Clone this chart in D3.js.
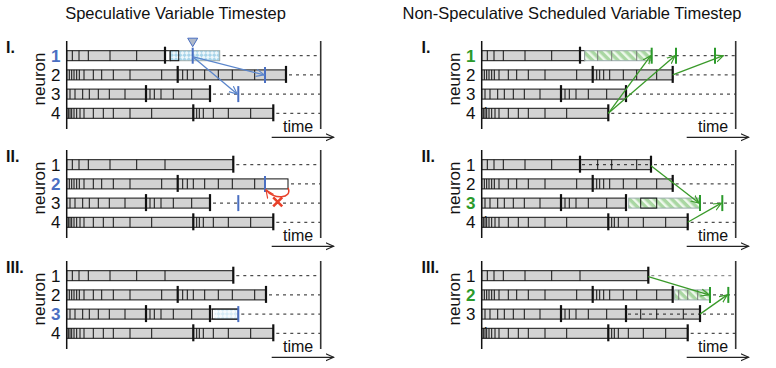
<!DOCTYPE html>
<html>
<head>
<meta charset="utf-8">
<script src="https://cdn.jsdelivr.net/npm/d3@7"></script>
<style>
  body { margin: 0; background: #fff; }
  svg { display: block; font-family: "Liberation Sans", Arial, sans-serif; }
</style>
</head>
<body>
<svg id="chart" width="776" height="368"></svg>
<script>
const titles = ["Speculative Variable Timestep", "Non-Speculative Scheduled Variable Timestep"];
const panelNames = ["I.", "II.", "III."];
const neurons = [1, 2, 3, 4];

// step boundaries (time units) of each neuron
const stepsN1 = [5.6, 12.3, 21.6, 43.3, 70, 98.3];
const stepsN1late = [116, 130, 155];
const stepsN2 = [2.6, 5, 7.3, 10, 12.6, 17.3, 26.6, 35, 46.6, 63.3, 95, 111, 116, 120.6, 126.6, 138, 151.6, 165.6, 188];
const stepsN2R = [2.6, 5, 7.3, 10, 12.6, 17.3, 26.6, 35, 46.6, 63.3, 95, 111, 115, 118, 122, 128, 141.6, 155, 175];
const stepsN3 = [3.3, 8.3, 16, 22.6, 31.6, 42.6, 58.3, 79.3, 83.3, 87.6, 94.3, 106.6, 125];
const stepsN3late = [159, 175, 201.6];
const stepsN4 = [1.6, 3.3, 5, 7.3, 10, 13.3, 17.3, 26.6, 36.6, 46.6, 63.3, 85, 126.6, 130, 132.6, 136.6, 146.6, 161.6, 184];
const specTicksN2 = [197, 206, 216];

// side 0 = speculative, side 1 = scheduled; level 0..2 = I..III
const panels = [
  { side: 0, level: 0, focus: 1,
    rows: [
      { n: 1, end: 98.3, ticks: stepsN1, thick: [98.3], white: [98.3, 103.5], spec: [103.5, 153], box: [103.5, 112], markers: [126], trigger: 126, dashFrom: 153 },
      { n: 2, end: 219.3, ticks: stepsN2, thick: [111, 219.3], markers: [198.3], dashFrom: 219.3 },
      { n: 3, end: 143.3, ticks: stepsN3, thick: [79.3, 143.3], markers: [171.6], dashFrom: 143.3 },
      { n: 4, end: 206.6, ticks: stepsN4, thick: [126.6, 206.6], dashFrom: 206.6 }
    ],
    arrows: [[126, 1, 197.5, 2], [126, 1, 170.5, 3]] },
  { side: 0, level: 1, focus: 2,
    rows: [
      { n: 1, end: 166.6, ticks: stepsN1, thick: [166.6], dashFrom: 166.6 },
      { n: 2, end: 198.3, ticks: stepsN2, thick: [111], white: [198.3, 221.3], markers: [198.3], dashFrom: 221.3 },
      { n: 3, end: 143.3, ticks: stepsN3, thick: [79.3, 143.3], markers: [171.6], dashFrom: 143.3 },
      { n: 4, end: 206.6, ticks: stepsN4, thick: [126.6, 206.6], dashFrom: 206.6 }
    ],
    arrows: [], rollback: [221.3, 198.3, 2, 211] },
  { side: 0, level: 2, focus: 3,
    rows: [
      { n: 1, end: 166.6, ticks: stepsN1, thick: [166.6], dashFrom: 166.6 },
      { n: 2, end: 199.3, ticks: stepsN2, thick: [111, 199.3], dashFrom: 199.3 },
      { n: 3, end: 143.3, ticks: stepsN3, thick: [79.3, 143.3], white: [143.3, 171.6], spec: [148, 171.6], faint: true, box: [145.6, 171.6], markers: [171.6], dashFrom: 171.6 },
      { n: 4, end: 206.6, ticks: stepsN4, thick: [126.6, 206.6], dashFrom: 206.6 }
    ],
    arrows: [] },
  { side: 1, level: 0, focus: 1,
    rows: [
      { n: 1, end: 98.3, ticks: stepsN1, thick: [98.3], white: [98.3, 103], spec: [103, 170], specTicks: stepsN1late, markers: [170, 194.3, 233.3], dashFrom: 170 },
      { n: 2, end: 191, ticks: stepsN2R, thick: [111, 191], dashFrom: 191 },
      { n: 3, end: 144.3, ticks: stepsN3, thick: [79.3, 144.3], dashFrom: 144.3 },
      { n: 4, end: 126.6, ticks: stepsN4, thick: [126.6], dashFrom: 126.6 }
    ],
    arrows: [[126.6, 4, 169, 1], [126.6, 4, 193.3, 1], [191, 2, 241.6, 1]] },
  { side: 1, level: 1, focus: 3,
    rows: [
      { n: 1, end: 169.3, ticks: stepsN1.concat(stepsN1late), thick: [98.3, 169.3], dashMid: [98.3, 169.3], dashFrom: 169.3 },
      { n: 2, end: 191, ticks: stepsN2R, thick: [111, 191], dashFrom: 191 },
      { n: 3, end: 144.3, ticks: stepsN3, thick: [79.3, 144.3], spec: [147, 218.3], box: [159, 175], markers: [218.3, 240.6], dashFrom: 218.3 },
      { n: 4, end: 206, ticks: stepsN4, thick: [126.6, 206], dashFrom: 206 }
    ],
    arrows: [[169.3, 1, 217.3, 3], [206, 4, 239.6, 3]] },
  { side: 1, level: 2, focus: 2,
    rows: [
      { n: 1, end: 166.6, ticks: stepsN1, thick: [166.6], dashFrom: 166.6, dashGrey: true },
      { n: 2, end: 191, ticks: stepsN2R, thick: [111, 191], spec: [193, 228.3], specTicks: specTicksN2, markers: [228.3, 246.6], dashFrom: 228.3 },
      { n: 3, end: 218.3, ticks: stepsN3.concat(stepsN3late), thick: [79.3, 144.3, 218.3], dashMid: [144.3, 218.3], dashFrom: 218.3 },
      { n: 4, end: 206, ticks: stepsN4, thick: [126.6, 206], dashFrom: 206, noLabel: true }
    ],
    arrows: [[166.6, 1, 227.3, 2], [218.3, 3, 245.6, 2]] }
];

const levelOffsets = [0, 109, 220];
const sideColor = ["#4a6fc2", "#2b9a2b"];
const arrowColor = ["#5b86cc", "#3a9a2a"];

const svg = d3.select("#chart");
const defs = svg.append("defs");

// hatch patterns for speculative (blue) and scheduled (green) steps
const pb = defs.append("pattern").attr("id", "hatch0")
  .attr("patternUnits", "userSpaceOnUse").attr("width", 6).attr("height", 6)
  .attr("patternTransform", "rotate(45)");
pb.append("rect").attr("width", 6).attr("height", 6).attr("fill", "#a8d5ea");
pb.append("rect").attr("width", 3).attr("height", 3).attr("fill", "#edf7fb");
pb.append("rect").attr("x", 3).attr("y", 3).attr("width", 3).attr("height", 3).attr("fill", "#edf7fb");

const pg = defs.append("pattern").attr("id", "hatch1")
  .attr("patternUnits", "userSpaceOnUse").attr("width", 6).attr("height", 6)
  .attr("patternTransform", "rotate(-45)");
pg.append("rect").attr("width", 6).attr("height", 6).attr("fill", "#a9d7a2");
pg.append("rect").attr("width", 2.5).attr("height", 6).attr("fill", "#eef8ec");

function addArrow(id, color) {
  defs.append("marker").attr("id", id)
    .attr("viewBox", "0 -5 10 10").attr("refX", 9).attr("refY", 0)
    .attr("markerUnits", "userSpaceOnUse").attr("markerWidth", 9).attr("markerHeight", 9)
    .attr("orient", "auto")
    .append("path").attr("d", "M0,-4L9,0L0,4").attr("fill", "none")
    .attr("stroke", color).attr("stroke-width", 1.3);
}
addArrow("arr0", arrowColor[0]);
addArrow("arr1", arrowColor[1]);
addArrow("arrRed", "#e8412a");
addArrow("arrAxis", "#222");

const xScales = [
  d3.scaleLinear().domain([0, 254]).range([66.7, 320.7]),
  d3.scaleLinear().domain([0, 254]).range([481.7, 735.7])
];

// titles
svg.selectAll("text.title").data(titles).join("text")
  .attr("class", "title")
  .attr("x", (d, i) => i === 0 ? 175.5 : 572)
  .attr("y", 18.5)
  .attr("text-anchor", "middle")
  .attr("font-size", 16.5)
  .attr("fill", "#111")
  .text(d => d);

panels.forEach(p => {
  const x = xScales[p.side];
  const base = levelOffsets[p.level];
  const y = d3.scalePoint().domain(neurons).range([base + 55.7, base + 113.3]);
  const g = svg.append("g");
  const col = sideColor[p.side];

  // panel label
  g.append("text")
    .attr("x", p.side === 0 ? 6 : 421.5)
    .attr("y", base + 53)
    .attr("font-size", 16).attr("font-weight", "bold").attr("fill", "#111")
    .text(panelNames[p.level]);

  // neuron axis label
  g.append("text")
    .attr("transform", "translate(" + (x(0) - 21.5) + "," + (base + 79) + ") rotate(-90)")
    .attr("text-anchor", "middle")
    .attr("font-size", 17).attr("fill", "#111")
    .text("neuron");

  // row labels
  g.selectAll("text.rowlab").data(p.rows.filter(r => !r.noLabel)).join("text")
    .attr("x", x(0) - 11)
    .attr("y", r => y(r.n) + 6)
    .attr("text-anchor", "middle")
    .attr("font-size", 17)
    .attr("font-weight", r => r.n === p.focus ? "bold" : "normal")
    .attr("fill", r => r.n === p.focus ? col : "#111")
    .text(r => r.n);

  if (p.side === 1) {
    g.append("text")
      .attr("x", x(0) + 3).attr("y", y(4) + 3)
      .attr("text-anchor", "middle")
      .attr("font-size", 12).attr("fill", "#111")
      .text("4");
  }

  // dashed continuation lines
  g.selectAll("line.dash").data(p.rows).join("line")
    .attr("x1", r => x(r.dashFrom) + 3).attr("x2", x(254))
    .attr("y1", r => y(r.n)).attr("y2", r => y(r.n))
    .attr("stroke", r => r.dashGrey ? "#777" : "#222")
    .attr("stroke-width", 1).attr("stroke-dasharray", "3,4");

  p.rows.forEach(r => {
    const cy = y(r.n);
    const rg = g.append("g");
    rg.append("rect")
      .attr("x", x(0)).attr("y", cy - 5)
      .attr("width", x(r.end) - x(0)).attr("height", 10)
      .attr("fill", "#d3d3d3").attr("stroke", "#111").attr("stroke-width", 1);
    if (r.white) {
      rg.append("rect")
        .attr("x", x(r.white[0])).attr("y", cy - 5)
        .attr("width", x(r.white[1]) - x(r.white[0])).attr("height", 10)
        .attr("fill", "#fff").attr("stroke", "#111").attr("stroke-width", 1);
    }
    if (r.spec) {
      rg.append("rect")
        .attr("x", x(r.spec[0])).attr("y", cy - 5)
        .attr("width", x(r.spec[1]) - x(r.spec[0])).attr("height", 10)
        .attr("fill", "url(#hatch" + p.side + ")")
        .attr("opacity", r.faint ? 0.45 : 1)
        .attr("stroke", r.faint ? "none" : "#9aa")
        .attr("stroke-width", 1);
      rg.selectAll("line.stick").data(r.specTicks || []).join("line")
        .attr("x1", d => x(d)).attr("x2", d => x(d))
        .attr("y1", cy - 5).attr("y2", cy + 5)
        .attr("stroke", "#777").attr("stroke-width", 1);
    }
    if (r.box) {
      rg.append("rect")
        .attr("x", x(r.box[0])).attr("y", cy - 5)
        .attr("width", x(r.box[1]) - x(r.box[0])).attr("height", 10)
        .attr("fill", "none").attr("stroke", "#111").attr("stroke-width", 1);
    }
    if (r.dashMid) {
      rg.append("line")
        .attr("x1", x(r.dashMid[0]) + 2).attr("x2", x(r.dashMid[1]))
        .attr("y1", cy).attr("y2", cy)
        .attr("stroke", "#222").attr("stroke-width", 1).attr("stroke-dasharray", "3,4");
    }
    rg.selectAll("line.tick").data(r.ticks.filter(t => t < r.end)).join("line")
      .attr("x1", d => x(d)).attr("x2", d => x(d))
      .attr("y1", cy - 5).attr("y2", cy + 5)
      .attr("stroke", "#111").attr("stroke-width", 1);
    rg.selectAll("line.thick").data(r.thick).join("line")
      .attr("x1", d => x(d)).attr("x2", d => x(d))
      .attr("y1", cy - 9).attr("y2", cy + 8)
      .attr("stroke", "#111").attr("stroke-width", 2.2);
    rg.selectAll("line.marker").data(r.markers || []).join("line")
      .attr("x1", d => x(d)).attr("x2", d => x(d))
      .attr("y1", cy - 8).attr("y2", cy + 8)
      .attr("stroke", col).attr("stroke-width", 2);
    if (r.trigger !== undefined) {
      const tx = x(r.trigger);
      rg.append("path")
        .attr("d", "M" + (tx - 5) + "," + (cy - 17.5) + "L" + (tx + 5) + "," + (cy - 17.5) + "L" + tx + "," + (cy - 9) + "Z")
        .attr("fill", "#aeb8c8").attr("stroke", col).attr("stroke-width", 1);
    }
  });

  // spike messages
  g.selectAll("line.msg").data(p.arrows).join("line")
    .attr("x1", d => x(d[0])).attr("y1", d => y(d[1]) + (d[1] < d[3] ? 1 : 0))
    .attr("x2", d => x(d[2])).attr("y2", d => y(d[3]))
    .attr("stroke", arrowColor[p.side]).attr("stroke-width", 1.3)
    .attr("marker-end", "url(#arr" + p.side + ")");

  // rollback loop
  if (p.rollback) {
    const [from, to, n, xt] = p.rollback;
    const cy = y(n);
    const x1 = x(from), x0 = x(to);
    g.append("path")
      .attr("d", "M" + x1 + "," + (cy + 4) + "C" + (x1 + 5) + "," + (cy + 15) + " " + (x0 + 8) + "," + (cy + 16) + " " + (x0 + 1) + "," + (cy + 6))
      .attr("fill", "none").attr("stroke", "#e8412a").attr("stroke-width", 1.5)
      .attr("marker-end", "url(#arrRed)");
    const cx = x(xt), xy = cy + 18;
    g.append("path")
      .attr("d", "M" + (cx - 4.5) + "," + (xy - 4.5) + "L" + (cx + 4.5) + "," + (xy + 4.5) + "M" + (cx + 4.5) + "," + (xy - 4.5) + "L" + (cx - 4.5) + "," + (xy + 4.5))
      .attr("stroke", "#e8412a").attr("stroke-width", 2.6);
  }

  // time axis (vertical lines, label and arrow)
  g.append("line")
    .attr("x1", x(0)).attr("x2", x(0))
    .attr("y1", base + 41).attr("y2", base + 129)
    .attr("stroke", "#111").attr("stroke-width", 1.5);
  g.append("line")
    .attr("x1", x(254)).attr("x2", x(254))
    .attr("y1", base + 41).attr("y2", base + 129)
    .attr("stroke", "#333").attr("stroke-width", 1.6);
  g.append("text")
    .attr("x", x(246.5)).attr("y", base + 131.5)
    .attr("text-anchor", "end")
    .attr("font-size", 16).attr("fill", "#111")
    .text("time");
  g.append("line")
    .attr("x1", x(205)).attr("x2", x(267))
    .attr("y1", base + 137.3).attr("y2", base + 137.3)
    .attr("stroke", "#222").attr("stroke-width", 1.2)
    .attr("marker-end", "url(#arrAxis)");
});
</script>
</body>
</html>
